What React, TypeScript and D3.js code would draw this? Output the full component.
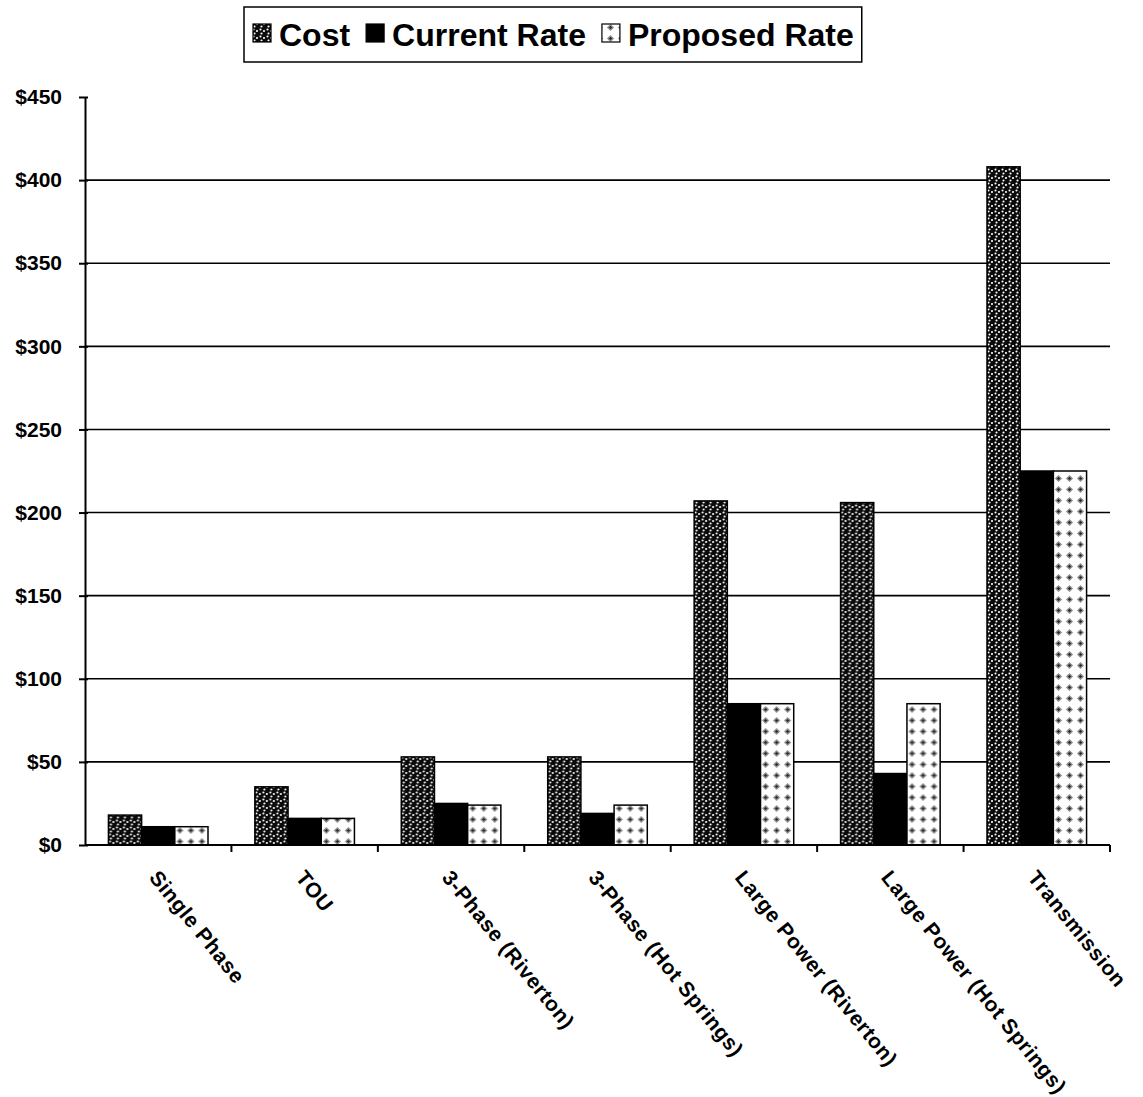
import * as d3 from 'd3';
import React, { useEffect, useRef } from "react";

const categories = [
    'Single Phase',
    'TOU',
    '3-Phase (Riverton)',
    '3-Phase (Hot Springs)',
    'Large Power (Riverton)',
    'Large Power (Hot Springs)',
    'Transmission'
];
const costValues = [18, 35, 53, 53, 207, 206, 408];
const currentRateValues = [11, 16, 25, 19, 85, 43, 225];
const proposedRateValues = [11, 16, 24, 24, 85, 85, 225];
const seriesNames = ['Cost', 'Current Rate', 'Proposed Rate'];
const yTicks = [0, 50, 100, 150, 200, 250, 300, 350, 400, 450];

const FONT = '"Liberation Sans", Arial, sans-serif';

const App: React.FC = () => {
    const ref = useRef<SVGSVGElement>(null);

    useEffect(() => {
        if (!ref.current) return;
        const width = 1143;
        const height = 1097;
        const left = 85, right = 1110, top = 97, bottom = 845;

        const svg = d3.select(ref.current)
            .attr('width', width)
            .attr('height', height);
        svg.selectAll('*').remove();
        svg.append('rect').attr('width', width).attr('height', height).attr('fill', '#fff');

        // patterns
        const defs = svg.append('defs');
        const costPat = defs.append('pattern').attr('id', 'costPat')
            .attr('patternUnits', 'userSpaceOnUse').attr('width', 7).attr('height', 7);
        costPat.append('rect').attr('width', 7).attr('height', 7).attr('fill', '#0a0a0a');
        [[1.5, 1.5], [5, 3], [2.5, 5.5]].forEach(([cx, cy]) => {
            costPat.append('circle').attr('cx', cx).attr('cy', cy).attr('r', 1.05).attr('fill', '#fff');
        });

        const propPat = defs.append('pattern').attr('id', 'propPat')
            .attr('patternUnits', 'userSpaceOnUse').attr('width', 11).attr('height', 11);
        propPat.append('rect').attr('width', 11).attr('height', 11).attr('fill', '#fff');
        const diamond = (cx: number, cy: number, r: number) =>
            `M${cx},${cy - r}L${cx + r},${cy}L${cx},${cy + r}L${cx - r},${cy}Z`;
        propPat.append('path').attr('d', diamond(5.5, 5.5, 3.6)).attr('fill', '#8c8c8c');
        propPat.append('path').attr('d', diamond(5.5, 5.5, 1.6)).attr('fill', '#222');

        const fills = ['url(#costPat)', '#000', 'url(#propPat)'];
        const series = [costValues, currentRateValues, proposedRateValues];

        const x0 = d3.scaleBand<string>().domain(categories).range([left, right]).paddingInner(0.32).paddingOuter(0.16);
        const x1 = d3.scaleBand<number>().domain([0, 1, 2]).range([0, x0.bandwidth()]);
        const y = d3.scaleLinear().domain([0, 450]).range([bottom, top]);

        // gridlines
        svg.append('g').selectAll('line')
            .data(yTicks.filter(t => t > 0 && t < 450))
            .enter().append('line')
            .attr('x1', left).attr('x2', right)
            .attr('y1', d => y(d)).attr('y2', d => y(d))
            .attr('stroke', '#000').attr('stroke-width', 1.6);

        // bars
        const groups = svg.append('g').selectAll('g')
            .data(categories)
            .enter().append('g')
            .attr('transform', d => `translate(${x0(d)},0)`);
        groups.selectAll('rect')
            .data((_, i) => series.map((s, k) => ({ k, v: s[i] })))
            .enter().append('rect')
            .attr('x', d => x1(d.k)!)
            .attr('y', d => y(d.v))
            .attr('width', x1.bandwidth())
            .attr('height', d => y(0) - y(d.v))
            .attr('fill', d => fills[d.k])
            .attr('stroke', '#000')
            .attr('stroke-width', 1.5);

        // y axis
        const yAxis = svg.append('g')
            .attr('transform', `translate(${left},0)`)
            .call(d3.axisLeft(y).tickValues(yTicks).tickSize(6).tickSizeOuter(0).tickFormat(d => `$${d}`));
        yAxis.select('.domain').attr('stroke', '#000').attr('stroke-width', 2);
        yAxis.selectAll('.tick line').attr('stroke', '#000').attr('stroke-width', 2).attr('x2', -6).attr('x1', 3);
        yAxis.selectAll('.tick text')
            .attr('x', -23)
            .attr('font-family', FONT)
            .attr('font-weight', 'bold')
            .attr('font-size', 21)
            .attr('fill', '#000');

        // x axis
        svg.append('line')
            .attr('x1', left).attr('x2', right)
            .attr('y1', bottom).attr('y2', bottom)
            .attr('stroke', '#000').attr('stroke-width', 2);
        const step = x0.step();
        svg.append('g').selectAll('line')
            .data(d3.range(1, categories.length + 1))
            .enter().append('line')
            .attr('x1', i => left + i * step).attr('x2', i => left + i * step)
            .attr('y1', bottom).attr('y2', bottom + 7)
            .attr('stroke', '#000').attr('stroke-width', 2);

        svg.append('g').selectAll('text')
            .data(categories)
            .enter().append('text')
            .attr('transform', d => `translate(${x0(d)! + x0.bandwidth() / 2 - 10},878) rotate(51)`)
            .attr('font-family', FONT)
            .attr('font-weight', 'bold')
            .attr('font-size', 21)
            .attr('letter-spacing', 0.6)
            .attr('fill', '#000')
            .text(d => d);

        // legend
        const legend = svg.append('g');
        const box = legend.append('rect')
            .attr('y', 7).attr('height', 55)
            .attr('fill', '#fff').attr('stroke', '#000').attr('stroke-width', 1.5);
        let cx = 253;
        seriesNames.forEach((name, k) => {
            legend.append('rect')
                .attr('x', cx).attr('y', 24).attr('width', 18).attr('height', 18)
                .attr('fill', fills[k]).attr('stroke', '#000').attr('stroke-width', 1.2);
            const t = legend.append('text')
                .attr('x', cx + 26).attr('y', 46)
                .attr('font-family', FONT)
                .attr('font-weight', 'bold')
                .attr('font-size', 32)
                .attr('fill', '#000')
                .text(name);
            const w = (t.node() as SVGTextElement).getComputedTextLength();
            cx = cx + 26 + w + 16;
        });
        box.attr('x', 244).attr('width', cx - 244 - 8);
    }, []);

    return (
        <svg ref={ref} style={{ position: 'absolute', left: 0, top: 0, display: 'block' }}></svg>
    );
};

export default App;
